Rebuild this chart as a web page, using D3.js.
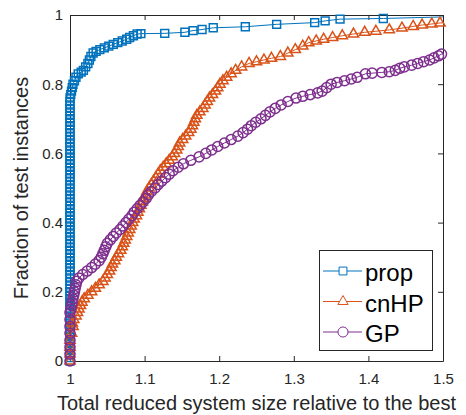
<!DOCTYPE html>
<html>
<head>
<meta charset="utf-8">
<script src="https://cdn.jsdelivr.net/npm/d3@7"></script>
<style>
body { margin: 0; background: #fff; }
svg { display: block; font-family: "Liberation Sans", Arial, sans-serif; }
</style>
</head>
<body>
<svg id="chart" width="466" height="415"></svg>
<script>
// data, each point is [ratio, fraction of instances]
var propPts = [
  [1,0],[1,.01],[1,.02],[1,.03],[1,.04],[1,.05],[1,.06],[1,.07],[1,.08],[1,.09],
  [1,.10],[1,.11],[1,.12],[1,.13],[1,.14],[1,.15],[1,.16],[1,.17],[1,.18],[1,.19],
  [1,.20],[1,.21],[1,.22],[1,.23],[1,.24],[1,.25],[1,.26],[1,.27],[1,.28],[1,.29],
  [1,.30],[1,.31],[1,.32],[1,.33],[1,.34],[1,.35],[1,.36],[1,.37],[1,.38],[1,.39],
  [1,.40],[1,.41],[1,.42],[1,.43],[1,.44],[1,.45],[1,.46],[1,.47],[1,.48],[1,.49],
  [1,.50],[1,.51],[1,.52],[1,.53],[1,.54],[1,.55],[1,.56],[1,.57],[1,.58],[1,.59],
  [1,.60],[1,.61],[1,.62],[1,.63],[1,.64],[1,.65],[1,.66],[1,.67],[1,.68],[1,.69],
  [1,.70],[1,.71],[1,.72],[1,.73],[1,.74],[1,.75],[1,.76],
  [1.001,.77],[1.002,.78],[1.003,.79],[1.004,.80],[1.006,.81],[1.008,.82],[1.011,.83],
  [1.015,.835],[1.018,.84],[1.021,.85],[1.024,.86],[1.026,.87],[1.028,.88],[1.031,.89],
  [1.035,.895],[1.040,.90],[1.046,.905],[1.052,.91],[1.058,.915],[1.064,.92],[1.070,.925],
  [1.076,.93],[1.080,.935],[1.085,.94],[1.090,.945],[1.095,.946],[1.127,.947],[1.154,.950],
  [1.165,.955],[1.177,.958],[1.192,.963],[1.235,.966],[1.277,.973],[1.328,.978],[1.342,.983],
  [1.362,.988],[1.420,.990],[1.6,1.0]
];

var cnhpPts = [
  [1,0],[1,.02],[1,.04],[1,.06],[1.002,.08],[1.004,.10],
  [1.003,.11],[1.005,.12],[1.008,.13],[1.010,.14],[1.012,.15],[1.014,.16],[1.016,.17],
  [1.019,.18],[1.024,.19],[1.029,.20],[1.034,.21],[1.039,.22],[1.044,.23],[1.047,.24],
  [1.050,.25],[1.053,.26],[1.055,.27],[1.057,.28],[1.060,.29],[1.062,.30],[1.065,.31],
  [1.068,.32],[1.070,.33],[1.072,.34],[1.074,.35],[1.076,.36],[1.078,.37],[1.080,.38],
  [1.082,.39],[1.084,.40],[1.086,.41],[1.089,.42],[1.091,.43],[1.093,.44],[1.095,.45],
  [1.097,.46],[1.099,.47],[1.101,.48],[1.103,.49],[1.106,.50],[1.109,.51],[1.112,.52],
  [1.115,.53],[1.118,.54],[1.121,.55],[1.125,.56],[1.129,.57],[1.133,.58],[1.137,.59],
  [1.140,.60],[1.143,.61],[1.145,.62],[1.147,.63],[1.151,.64],[1.155,.65],[1.159,.66],
  [1.162,.67],[1.164,.68],[1.166,.69],[1.168,.70],[1.170,.71],[1.174,.72],[1.178,.73],
  [1.181,.74],[1.184,.75],[1.187,.76],[1.191,.77],[1.195,.78],[1.198,.79],[1.201,.80],
  [1.205,.81],[1.210,.82],[1.216,.83],[1.222,.84],[1.230,.85],[1.240,.86],[1.250,.865],
  [1.260,.87],[1.270,.875],[1.282,.88],[1.292,.89],[1.302,.90],[1.312,.91],[1.320,.92],
  [1.330,.925],[1.340,.93],[1.352,.935],[1.365,.94],[1.380,.945],[1.395,.95],[1.410,.953],
  [1.428,.957],[1.445,.962],[1.460,.967],[1.472,.971],[1.485,.974],[1.496,.977],[1.6,.99]
];

var gpPts = [
  [1,0],[1,.02],[1,.04],[1,.06],[1,.08],[1,.10],[1,.12],[1,.14],
  [1.001,.15],[1.002,.16],[1.003,.17],[1.004,.18],[1.005,.19],[1.006,.20],[1.007,.21],
  [1.008,.22],[1.009,.23],[1.012,.24],[1.017,.25],[1.023,.26],[1.029,.27],[1.034,.28],
  [1.039,.29],[1.042,.30],[1.044,.31],[1.046,.32],[1.048,.33],[1.050,.34],[1.054,.35],
  [1.058,.36],[1.062,.37],[1.067,.38],[1.071,.39],[1.075,.40],[1.079,.41],[1.083,.42],
  [1.086,.43],[1.090,.44],[1.094,.45],[1.098,.46],[1.102,.47],[1.105,.48],[1.109,.49],
  [1.114,.50],[1.118,.51],[1.123,.52],[1.128,.53],[1.133,.54],[1.138,.55],[1.145,.56],
  [1.152,.57],[1.162,.58],[1.173,.59],[1.182,.60],[1.190,.61],[1.198,.62],[1.207,.63],
  [1.216,.64],[1.225,.65],[1.232,.66],[1.238,.67],[1.243,.68],[1.249,.69],[1.256,.70],
  [1.262,.71],[1.268,.72],[1.275,.73],[1.283,.74],[1.292,.75],[1.303,.76],[1.312,.765],
  [1.322,.77],[1.332,.775],[1.338,.78],[1.344,.79],[1.350,.80],[1.358,.805],[1.368,.81],
  [1.377,.815],[1.385,.82],[1.396,.83],[1.405,.832],[1.418,.834],[1.428,.836],[1.436,.84],
  [1.442,.846],[1.448,.85],[1.458,.855],[1.466,.86],[1.474,.865],[1.482,.87],[1.488,.876],
  [1.494,.882],[1.498,.887],[1.6,.92]
];

var seriesNames = ["prop", "cnHP", "GP"];
var seriesColors = ["#0072BD", "#D95319", "#7E2F8E"];
var xTicks = [1, 1.1, 1.2, 1.3, 1.4, 1.5];
var yTicks = [0, 0.2, 0.4, 0.6, 0.8, 1];

var svg = d3.select("#chart");
var margin = {top: 15, right: 23, bottom: 54, left: 70};
var width = +svg.attr("width") - margin.left - margin.right,
    height = +svg.attr("height") - margin.top - margin.bottom;
var ink = "#262626";

var x = d3.scaleLinear().domain([1, 1.5]).range([0, width]);
var y = d3.scaleLinear().domain([0, 1]).range([height, 0]);

var g = svg.append("g").attr("transform", "translate(" + margin.left + "," + margin.top + ")");

svg.append("clipPath").attr("id", "plotclip")
  .append("rect").attr("x", 0).attr("y", 0).attr("width", width).attr("height", height);

// axes, ticks pointing inward on all four sides
function styleAxis(sel) {
  sel.selectAll("path, line").attr("stroke", ink);
  sel.selectAll("text").attr("fill", ink).style("font-size", "15px");
}
g.append("g").attr("transform", "translate(0," + height + ")")
  .call(d3.axisBottom(x).tickValues(xTicks).tickSizeInner(-5).tickSizeOuter(0).tickPadding(12).tickFormat(String))
  .call(styleAxis);
g.append("g")
  .call(d3.axisTop(x).tickValues(xTicks).tickSizeInner(-5).tickSizeOuter(0).tickFormat(""))
  .call(styleAxis);
g.append("g")
  .call(d3.axisLeft(y).tickValues(yTicks).tickSizeInner(-5).tickSizeOuter(0).tickPadding(7).tickFormat(String))
  .call(styleAxis);
g.append("g").attr("transform", "translate(" + width + ",0)")
  .call(d3.axisRight(y).tickValues(yTicks).tickSizeInner(-5).tickSizeOuter(0).tickFormat(""))
  .call(styleAxis);

var symbols = [d3.symbolSquare, d3.symbolTriangle, d3.symbolCircle];
var symSizes = [62, 46, 80];
var allSeries = [propPts, cnhpPts, gpPts];

var line = d3.line().x(function(d) { return x(d[0]); }).y(function(d) { return y(d[1]); });

allSeries.forEach(function(pts, i) {
  g.append("path")
    .datum(pts)
    .attr("clip-path", "url(#plotclip)")
    .attr("fill", "none")
    .attr("stroke", seriesColors[i])
    .attr("stroke-width", 1)
    .attr("d", line);

  g.append("g").selectAll("path")
    .data(pts.filter(function(d) { return d[0] <= 1.5; }))
    .enter().append("path")
    .attr("transform", function(d) { return "translate(" + x(d[0]) + "," + y(d[1]) + ")"; })
    .attr("d", d3.symbol().type(symbols[i]).size(symSizes[i]))
    .attr("fill", "none")
    .attr("stroke", seriesColors[i])
    .attr("stroke-width", 1.5);
});

// axis titles
svg.append("text")
  .attr("x", margin.left + width / 2)
  .attr("y", 410)
  .attr("text-anchor", "middle")
  .attr("fill", ink)
  .style("font-size", "20px")
  .text("Total reduced system size relative to the best");

svg.append("text")
  .attr("transform", "translate(28," + (margin.top + height / 2) + ") rotate(-90)")
  .attr("text-anchor", "middle")
  .attr("fill", ink)
  .style("font-size", "20px")
  .text("Fraction of test instances");

// legend
var lg = svg.append("g");
lg.append("rect")
  .attr("x", 319.5).attr("y", 250.5).attr("width", 113).attr("height", 100)
  .attr("fill", "#fff").attr("stroke", ink).attr("stroke-width", 1);

seriesNames.forEach(function(name, i) {
  var ly = 271 + i * 30.5;
  lg.append("line")
    .attr("x1", 323).attr("x2", 362).attr("y1", ly).attr("y2", ly)
    .attr("stroke", seriesColors[i]).attr("stroke-width", 1);
  lg.append("path")
    .attr("transform", "translate(343," + ly + ")")
    .attr("d", d3.symbol().type(symbols[i]).size(symSizes[i]))
    .attr("fill", "#fff")
    .attr("stroke", seriesColors[i]);
  lg.append("text")
    .attr("x", 365).attr("y", ly + 10)
    .attr("fill", "#000")
    .style("font-size", "24px")
    .text(name);
});
</script>
</body>
</html>
